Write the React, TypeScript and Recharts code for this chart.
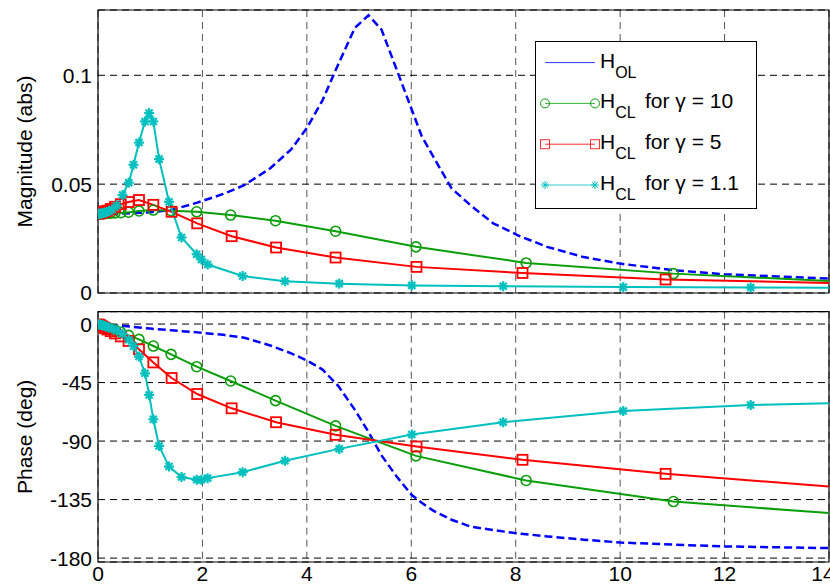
import { LineChart, Line, XAxis, YAxis, CartesianGrid, ReferenceArea, Legend, Label } from 'recharts';

// open loop H_OL
const freqOL = [0, 0.5, 1.0, 1.4, 1.9, 2.4, 2.8, 3.3, 3.7, 4.0, 4.3, 4.6, 4.92, 5.18, 5.43, 5.72, 6.01, 6.2, 6.42, 6.77, 7.13, 7.57, 8.05, 8.6, 9.3, 10, 11, 12, 13, 14];
const magOL = [0.0362, 0.0365, 0.0371, 0.0381, 0.0415, 0.0455, 0.0495, 0.0573, 0.066, 0.0758, 0.0885, 0.105, 0.1218, 0.1276, 0.121, 0.1026, 0.0842, 0.072, 0.0627, 0.0481, 0.0404, 0.032, 0.0264, 0.0212, 0.0165, 0.0135, 0.0105, 0.0086, 0.0076, 0.0066];
const phaseOL = [0, -1.5, -3.5, -4.8, -6.4, -8.3, -10.5, -16.5, -22.5, -28, -35, -47.5, -66, -83, -101, -117.3, -131.5, -137.5, -143.5, -150.5, -155.7, -158.5, -161, -163.3, -165.8, -168, -169.6, -171, -171.7, -172.3];

// closed loop, gamma = 10
const freqG10 = [0.01, 0.03, 0.05, 0.075, 0.1, 0.135, 0.18, 0.243, 0.326, 0.437, 0.586, 0.785, 1.06, 1.4, 1.89, 2.54, 3.4, 4.55, 6.09, 8.2, 11.02, 14];
const magG10 = [0.0364, 0.0364, 0.0364, 0.0364, 0.0364, 0.0365, 0.0366, 0.0367, 0.0368, 0.0369, 0.0371, 0.0377, 0.0381, 0.0378, 0.0373, 0.0358, 0.0332, 0.0284, 0.0212, 0.0138, 0.0089, 0.0055];
const phaseG10 = [-0.2, -0.5, -0.8, -1.1, -1.5, -2, -2.6, -3.5, -4.7, -6.3, -8.7, -11.8, -16.9, -23.3, -32.8, -43.8, -58.9, -78.3, -101.4, -120.3, -136.5, -145.4];

// closed loop, gamma = 5
const freqG5 = [0.01, 0.03, 0.05, 0.075, 0.1, 0.135, 0.18, 0.243, 0.326, 0.437, 0.586, 0.785, 1.06, 1.41, 1.9, 2.56, 3.41, 4.55, 6.1, 8.13, 10.87, 14];
const magG5 = [0.0365, 0.0366, 0.0368, 0.037, 0.0372, 0.0375, 0.0378, 0.0386, 0.0396, 0.0408, 0.0418, 0.0427, 0.0405, 0.0373, 0.032, 0.0261, 0.0209, 0.0163, 0.012, 0.0092, 0.0062, 0.0046];
const phaseG5 = [-0.3, -0.8, -1.2, -1.8, -2.4, -3.2, -4.2, -5.5, -7.2, -9.5, -13, -19.4, -29.5, -41.5, -53.8, -64.8, -75.5, -85.2, -94.2, -104.4, -115.2, -124.9];

// closed loop, gamma = 1.1
const freqG11 = [0.01, 0.03, 0.05, 0.075, 0.1, 0.13, 0.17, 0.21, 0.27, 0.36, 0.47, 0.59, 0.68, 0.785, 0.9, 0.98, 1.06, 1.17, 1.36, 1.6, 1.89, 1.98, 2.1, 2.77, 3.58, 4.62, 6.01, 7.76, 10.06, 12.5, 14];
const magG11 = [0.0364, 0.0364, 0.0365, 0.0366, 0.0367, 0.0369, 0.0372, 0.0376, 0.0384, 0.0402, 0.045, 0.0507, 0.0589, 0.0691, 0.0788, 0.0827, 0.0788, 0.0615, 0.0419, 0.0255, 0.0178, 0.0154, 0.0131, 0.0078, 0.0054, 0.0043, 0.0035, 0.0031, 0.0027, 0.0025, 0.0024];
const phaseG11 = [-0.1, -0.3, -0.5, -0.8, -1.1, -1.5, -2, -2.6, -3.5, -5, -7.5, -12, -17, -25, -37.9, -54.5, -73.2, -93.7, -109.6, -117.7, -119.8, -119.8, -118.5, -113.9, -105.2, -96, -85, -75.5, -66.8, -62.2, -60.9];

const freqTicks = [0, 2, 4, 6, 8, 10, 12, 14];
const magTicks = [0, 0.05, 0.1];
const phaseTicks = [-180, -135, -90, -45, 0];

const rows = (f: number[], m: number[], p: number[]) =>
  f.map((x, i) => ({ f: x, mag: m[i], ph: p[i], last: i === f.length - 1 }));

const olData = rows(freqOL, magOL, phaseOL);
const g10Data = rows(freqG10, magG10, phaseG10);
const g5Data = rows(freqG5, magG5, phaseG5);
const g11Data = rows(freqG11, magG11, phaseG11);

const FONT = "'Liberation Sans', Arial, Helvetica, sans-serif";
const BLUE = '#0000ff';
const GREEN = '#0a9e0a';
const RED = '#ff0000';
const CYAN = '#00bfbf';

const circleDot = (color: string, w = 1.6) => (props: any) => {
  const { cx, cy, index, payload } = props;
  if (payload.last || cx == null) return <g key={index} />;
  return <circle key={index} cx={cx} cy={cy} r={5} fill="none" stroke={color} strokeWidth={w} />;
};

const squareDot = (color: string, w = 1.8) => (props: any) => {
  const { cx, cy, index, payload } = props;
  if (payload.last || cx == null) return <g key={index} />;
  return <rect key={index} x={cx - 5} y={cy - 5} width={10} height={10} fill="none" stroke={color} strokeWidth={w} />;
};

const Star = ({ cx, cy, color, s = 5, w = 2 }: any) => (
  <g stroke={color} strokeWidth={w}>
    <line x1={cx - s} y1={cy} x2={cx + s} y2={cy} />
    <line x1={cx} y1={cy - s} x2={cx} y2={cy + s} />
    <line x1={cx - s * 0.7} y1={cy - s * 0.7} x2={cx + s * 0.7} y2={cy + s * 0.7} />
    <line x1={cx - s * 0.7} y1={cy + s * 0.7} x2={cx + s * 0.7} y2={cy - s * 0.7} />
  </g>
);

const starDot = (color: string) => (props: any) => {
  const { cx, cy, index, payload } = props;
  if (payload.last || cx == null) return <g key={index} />;
  return <Star key={index} cx={cx} cy={cy} color={color} w={2.2} />;
};

const legendRows = [
  { sub: 'OL', rest: '', color: BLUE, marker: 'none' },
  { sub: 'CL', rest: 'for γ = 10', color: GREEN, marker: 'circle' },
  { sub: 'CL', rest: 'for γ = 5', color: RED, marker: 'square' },
  { sub: 'CL', rest: 'for γ = 1.1', color: CYAN, marker: 'star' },
];

const renderLegend = () => (
  <svg width={223} height={169} style={{ display: 'block' }}>
    <rect x={0.5} y={0.5} width={221} height={167} fill="#fff" stroke="#000" strokeWidth={1} />
    {legendRows.map((r, i) => {
      const y = 21.6 + i * 40.8;
      return (
        <g key={r.color}>
          <line x1={10} y1={y} x2={60} y2={y} stroke={r.color} strokeWidth={1} opacity={0.8} />
          {r.marker === 'circle' && [10, 60].map((x) => (
            <circle key={x} cx={x} cy={y} r={4.5} fill="none" stroke={r.color} strokeWidth={1} />
          ))}
          {r.marker === 'square' && [10, 60].map((x) => (
            <rect key={x} x={x - 4.5} y={y - 4.5} width={9} height={9} fill="none" stroke={r.color} strokeWidth={1} opacity={0.8} />
          ))}
          {r.marker === 'star' && [10, 60].map((x) => (
            <Star key={x} cx={x} cy={y} color={r.color} s={4} w={1} />
          ))}
          <text x={65} y={y + 5} fontSize={21} fontFamily={FONT} fill="#000">
            H
            <tspan dy={10} fontSize={16}>{r.sub}</tspan>
            {r.rest && <tspan x={110} dy={-10}>{r.rest}</tspan>}
          </text>
        </g>
      );
    })}
  </svg>
);

const yLabel = (text: string) => (props: any) => {
  const vb = props.viewBox;
  const cy = vb.y + vb.height / 2;
  return (
    <text transform={`translate(32, ${cy}) rotate(-90)`} textAnchor="middle" fontSize={21} fontFamily={FONT} fill="#000">
      {text}
    </text>
  );
};

const tickStyle = { fontSize: 21, fill: '#000', fontFamily: FONT };

// the last frequency label sits at the clipped right edge, nudge it in a little like the original
const FreqTick = (props: any) => {
  const { x, y, payload } = props;
  const shift = payload.value === 14 ? -6 : 0;
  return (
    <text x={x + shift} y={y} dy="0.71em" textAnchor="middle" {...tickStyle}>
      {payload.value}
    </text>
  );
};

const App = () => (
  <div style={{ position: 'absolute', left: 0, top: 0, width: 830, height: 586, background: '#fff', fontFamily: FONT }}>
    <LineChart width={830} height={312} margin={{ top: 10, right: 1, bottom: 19, left: 0 }}>
      <CartesianGrid horizontal={false} stroke="#555" strokeDasharray="7 5" />
      <CartesianGrid vertical={false} stroke="#000" strokeDasharray="7 5" />
      <XAxis type="number" dataKey="f" domain={[0, 14]} ticks={freqTicks} hide allowDataOverflow />
      <YAxis
        type="number"
        domain={[0, 0.13]}
        ticks={magTicks}
        interval={0}
        width={98}
        tickSize={0}
        tickMargin={6}
        axisLine={false}
        tick={tickStyle}
        tickFormatter={(v) => String(v)}
        allowDataOverflow
      >
        <Label content={yLabel('Magnitude (abs)')} />
      </YAxis>
      <Line data={olData} dataKey="mag" stroke={BLUE} strokeWidth={2.5} strokeDasharray="8 4" dot={false} isAnimationActive={false} />
      <Line data={g10Data} dataKey="mag" stroke={GREEN} strokeWidth={2} dot={circleDot(GREEN)} isAnimationActive={false} />
      <Line data={g5Data} dataKey="mag" stroke={RED} strokeWidth={2} dot={squareDot(RED)} isAnimationActive={false} />
      <Line data={g11Data} dataKey="mag" stroke={CYAN} strokeWidth={2} dot={starDot(CYAN)} isAnimationActive={false} />
      <ReferenceArea x1={0} x2={14} y1={0} y2={0.13} fill="none" stroke="#000" strokeWidth={1.2} />
      <Legend
        layout="vertical"
        align="center"
        verticalAlign="middle"
        content={renderLegend}
        wrapperStyle={{ position: 'absolute', left: 535, top: 41, width: 223, height: 169 }}
      />
    </LineChart>
    <div style={{ position: 'absolute', left: 0, top: 300 }}>
      <LineChart width={830} height={286} margin={{ top: 11.7, right: 1, bottom: 0, left: 0 }}>
        <CartesianGrid horizontal={false} stroke="#555" strokeDasharray="7 5" />
        <CartesianGrid vertical={false} stroke="#000" strokeDasharray="7 5" />
        <XAxis
          type="number"
          dataKey="f"
          domain={[0, 14]}
          ticks={freqTicks}
          interval={0}
          height={24}
          tickSize={0}
          tickMargin={4}
          axisLine={false}
          tick={<FreqTick />}
          allowDataOverflow
        />
        <YAxis
          type="number"
          domain={[-183, 9.5]}
          ticks={phaseTicks}
          interval={0}
          width={98}
          tickSize={0}
          tickMargin={6}
          axisLine={false}
          tick={tickStyle}
          allowDataOverflow
        >
          <Label content={yLabel('Phase (deg)')} />
        </YAxis>
        <Line data={olData} dataKey="ph" stroke={BLUE} strokeWidth={2.5} strokeDasharray="8 4" dot={false} isAnimationActive={false} />
        <Line data={g10Data} dataKey="ph" stroke={GREEN} strokeWidth={2} dot={circleDot(GREEN)} isAnimationActive={false} />
        <Line data={g5Data} dataKey="ph" stroke={RED} strokeWidth={2} dot={squareDot(RED)} isAnimationActive={false} />
        <Line data={g11Data} dataKey="ph" stroke={CYAN} strokeWidth={2} dot={starDot(CYAN)} isAnimationActive={false} />
        <ReferenceArea x1={0} x2={14} y1={-183} y2={9.5} fill="none" stroke="#000" strokeWidth={1.2} />
      </LineChart>
    </div>
  </div>
);

export default App;
